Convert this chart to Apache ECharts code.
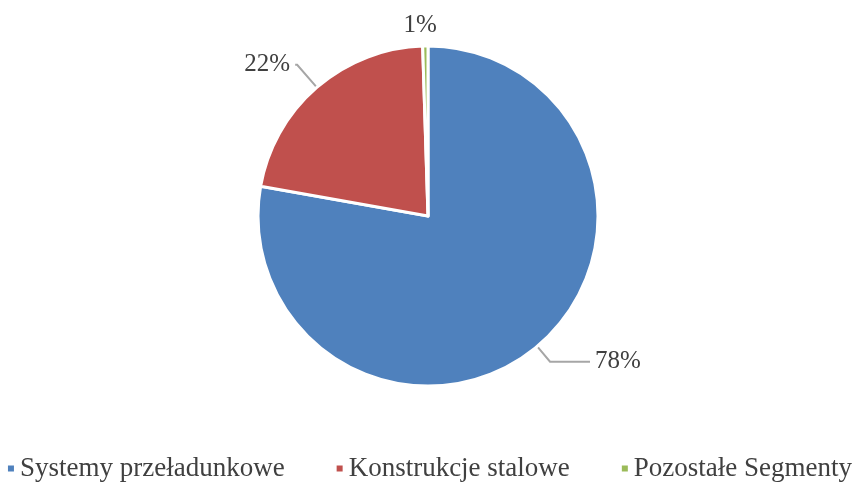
<!DOCTYPE html>
<html>
<head>
<meta charset="utf-8">
<script src="https://cdn.jsdelivr.net/npm/echarts@6/dist/echarts.min.js"></script>
<style>
  html, body { margin: 0; padding: 0; background: #fff; }
  #chart { width: 858px; height: 482px; }
</style>
</head>
<body>
<div id="chart"></div>
<script>
const categories = ["Systemy przeładunkowe", "Konstrukcje stalowe", "Pozostałe Segmenty"];
const shares = [77.8, 21.7, 0.5];
const colors = ["#4F81BD", "#C0504D", "#9BBB59"];

// leader line lengths per slice (first segment, horizontal segment)
const lineLen = [[20, 40], [30, 2], [8, 0]];

const myChart = echarts.init(document.getElementById("chart"));
const option = {
    color: colors,
    textStyle: { fontFamily: "Liberation Serif" },
    legend: {
        data: categories,
        bottom: 0,
        left: "center",
        width: 858,
        padding: 0,
        icon: "rect",
        itemWidth: 8,
        itemHeight: 8,
        itemGap: 50,
        textStyle: { fontSize: 27, color: "#404040", fontFamily: "Liberation Serif" },
    },
    series: [
        {
            type: "pie",
            center: [428, 216],
            radius: 170,
            startAngle: 90,
            clockwise: true,
            avoidLabelOverlap: false,
            itemStyle: { borderColor: "#fff", borderWidth: 3 },
            label: {
                show: true,
                position: "outside",
                fontSize: 25,
                color: "#404040",
                fontFamily: "Liberation Serif",
                formatter: (p) => Math.round(p.value) + "%",
            },
            labelLine: {
                lineStyle: { color: "#a6a6a6", width: 2 },
            },
            labelLayout: (params) => {
                if (params.dataIndex === 2) {
                    return { align: "center", verticalAlign: "bottom" };
                }
                return {};
            },
            data: categories.map((name, i) => ({
                name,
                value: shares[i],
                labelLine: {
                    show: i !== 2,
                    length: lineLen[i][0],
                    length2: lineLen[i][1],
                },
            })),
        },
    ],
};
myChart.setOption(option);
</script>
</body>
</html>
